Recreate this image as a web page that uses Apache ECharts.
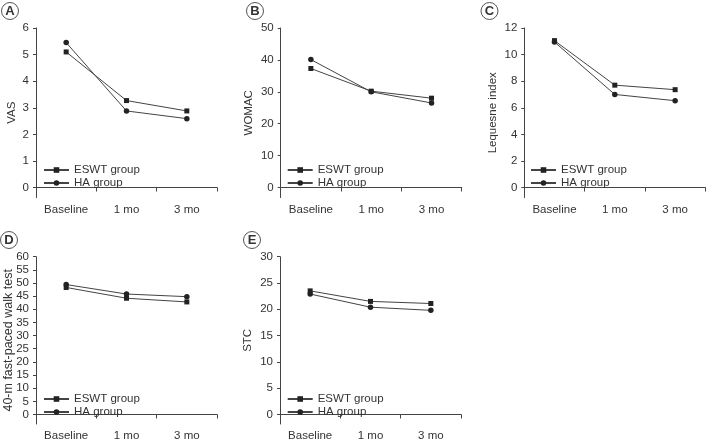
<!DOCTYPE html>
<html>
<head>
<meta charset="utf-8">
<script src="https://cdn.jsdelivr.net/npm/echarts@6/dist/echarts.min.js"></script>
<style>
html,body{margin:0;padding:0;background:#fff;}
#chart{width:707px;height:442px;}
</style>
</head>
<body>
<div id="chart"></div>
<script>
// ---- data ----
const categories = ['Baseline', '1 mo', '3 mo'];
const seriesNames = ['ESWT group', 'HA group'];

const vasESWT = [5.1, 3.27, 2.88];
const vasHA = [5.45, 2.88, 2.59];
const womacESWT = [37.3, 30.2, 28.0];
const womacHA = [40.1, 30.0, 26.5];
const lequesneESWT = [11.05, 7.7, 7.36];
const lequesneHA = [10.95, 7.0, 6.53];
const walkESWT = [48.3, 44.2, 42.8];
const walkHA = [49.4, 45.8, 44.8];
const stcESWT = [23.5, 21.5, 21.1];
const stcHA = [22.9, 20.4, 19.8];

const vasTicks = [0, 1, 2, 3, 4, 5, 6];
const womacTicks = [0, 10, 20, 30, 40, 50];
const lequesneTicks = [0, 2, 4, 6, 8, 10, 12];
const walkTicks = [0, 5, 10, 15, 20, 25, 30, 35, 40, 45, 50, 55, 60];
const stcTicks = [0, 5, 10, 15, 20, 25, 30];

const panelLetters = ['A', 'B', 'C', 'D', 'E'];
const yNames = ['VAS', 'WOMAC', 'Lequesne index', '40-m fast-paced walk test', 'STC'];

// ---- layout ----
const panels = [
  { letter: panelLetters[0], name: yNames[0], eswt: vasESWT, ha: vasHA, ticks: vasTicks, min: -0.376,
    grid: { left: 36, top: 28, width: 181, height: 169.5 }, nameGap: 18, nameSize: 11.5,
    legend: { left: 43, top: 164 }, badge: { left: 1.5, top: 2.5 } },
  { letter: panelLetters[1], name: yNames[1], eswt: womacESWT, ha: womacHA, ticks: womacTicks, min: -3.135,
    grid: { left: 280.7, top: 28, width: 181, height: 169.5 }, nameGap: 26, nameSize: 11.5,
    legend: { left: 286.7, top: 164 }, badge: { left: 246.5, top: 2.5 } },
  { letter: panelLetters[2], name: yNames[2], eswt: lequesneESWT, ha: lequesneHA, ticks: lequesneTicks, min: -0.752,
    grid: { left: 524.3, top: 28, width: 181, height: 169.5 }, nameGap: 25, nameSize: 11.5,
    legend: { left: 530, top: 164 }, badge: { left: 481, top: 2.5 } },
  { letter: panelLetters[3], name: yNames[3], eswt: walkESWT, ha: walkHA, ticks: walkTicks, min: -3.62,
    grid: { left: 36, top: 256.7, width: 181, height: 170.3 }, nameGap: 21, nameSize: 12.5,
    legend: { left: 43, top: 393 }, badge: { left: 0.5, top: 231.5 } },
  { letter: panelLetters[4], name: yNames[4], eswt: stcESWT, ha: stcHA, ticks: stcTicks, min: -1.81,
    grid: { left: 280, top: 256.7, width: 181, height: 170.3 }, nameGap: 26, nameSize: 11.5,
    legend: { left: 286.7, top: 393 }, badge: { left: 243.5, top: 231.5 } }
];

const FONT = 'Liberation Sans, Arial, Helvetica, sans-serif';
const TXT = '#333';
const LINE = '#444';

const option = {
  animation: false,
  backgroundColor: '#fff',
  textStyle: { fontFamily: FONT },
  title: [], grid: [], xAxis: [], yAxis: [], legend: [], series: []
};

panels.forEach((p, i) => {
  option.title.push({
    text: '{c|' + p.letter + '}',
    left: p.badge.left, top: p.badge.top, padding: 0,
    textStyle: {
      rich: {
        c: {
          fontFamily: FONT, fontSize: 13, color: '#333',
          width: 17, height: 17, lineHeight: 17, align: 'center',
          borderColor: '#555', borderWidth: 1, borderRadius: 9
        }
      }
    }
  });
  option.grid.push(Object.assign({ containLabel: false }, p.grid));
  option.xAxis.push({
    type: 'category', gridIndex: i, data: categories, boundaryGap: true,
    axisLine: { show: true, lineStyle: { color: LINE, width: 1 } },
    axisTick: { show: true, length: 4, lineStyle: { color: LINE } },
    axisLabel: { color: TXT, fontSize: 11.5, fontFamily: FONT, margin: 6 },
    splitLine: { show: false }
  });
  option.yAxis.push({
    type: 'value', gridIndex: i, min: p.min, max: p.ticks[p.ticks.length - 1],
    name: p.name, nameLocation: 'middle', nameGap: p.nameGap, nameMoveOverlap: false,
    nameTextStyle: { color: TXT, fontSize: p.nameSize, fontFamily: FONT },
    axisLine: { show: true, onZero: false, lineStyle: { color: LINE, width: 1 } },
    axisTick: { show: true, length: 3, customValues: p.ticks, lineStyle: { color: LINE } },
    axisLabel: { color: TXT, fontSize: 11.5, fontFamily: FONT, margin: 7, customValues: p.ticks },
    splitLine: { show: false }
  });
  option.legend.push({
    orient: 'vertical', left: p.legend.left, top: p.legend.top, padding: 0,
    itemWidth: 25, itemHeight: 7, itemGap: 1,
    data: seriesNames,
    textStyle: { color: TXT, fontSize: 11.5, fontFamily: FONT, lineHeight: 12 }
  });
  option.series.push({
    name: seriesNames[0], type: 'line', xAxisIndex: i, yAxisIndex: i, data: p.eswt,
    symbol: 'rect', symbolSize: 5,
    lineStyle: { color: LINE, width: 1 }, itemStyle: { color: '#222' }
  });
  option.series.push({
    name: seriesNames[1], type: 'line', xAxisIndex: i, yAxisIndex: i, data: p.ha,
    symbol: 'circle', symbolSize: 5.5,
    lineStyle: { color: LINE, width: 1 }, itemStyle: { color: '#222' }
  });
});

const chart = echarts.init(document.getElementById('chart'), null, { renderer: 'canvas' });
chart.setOption(option);
</script>
</body>
</html>
